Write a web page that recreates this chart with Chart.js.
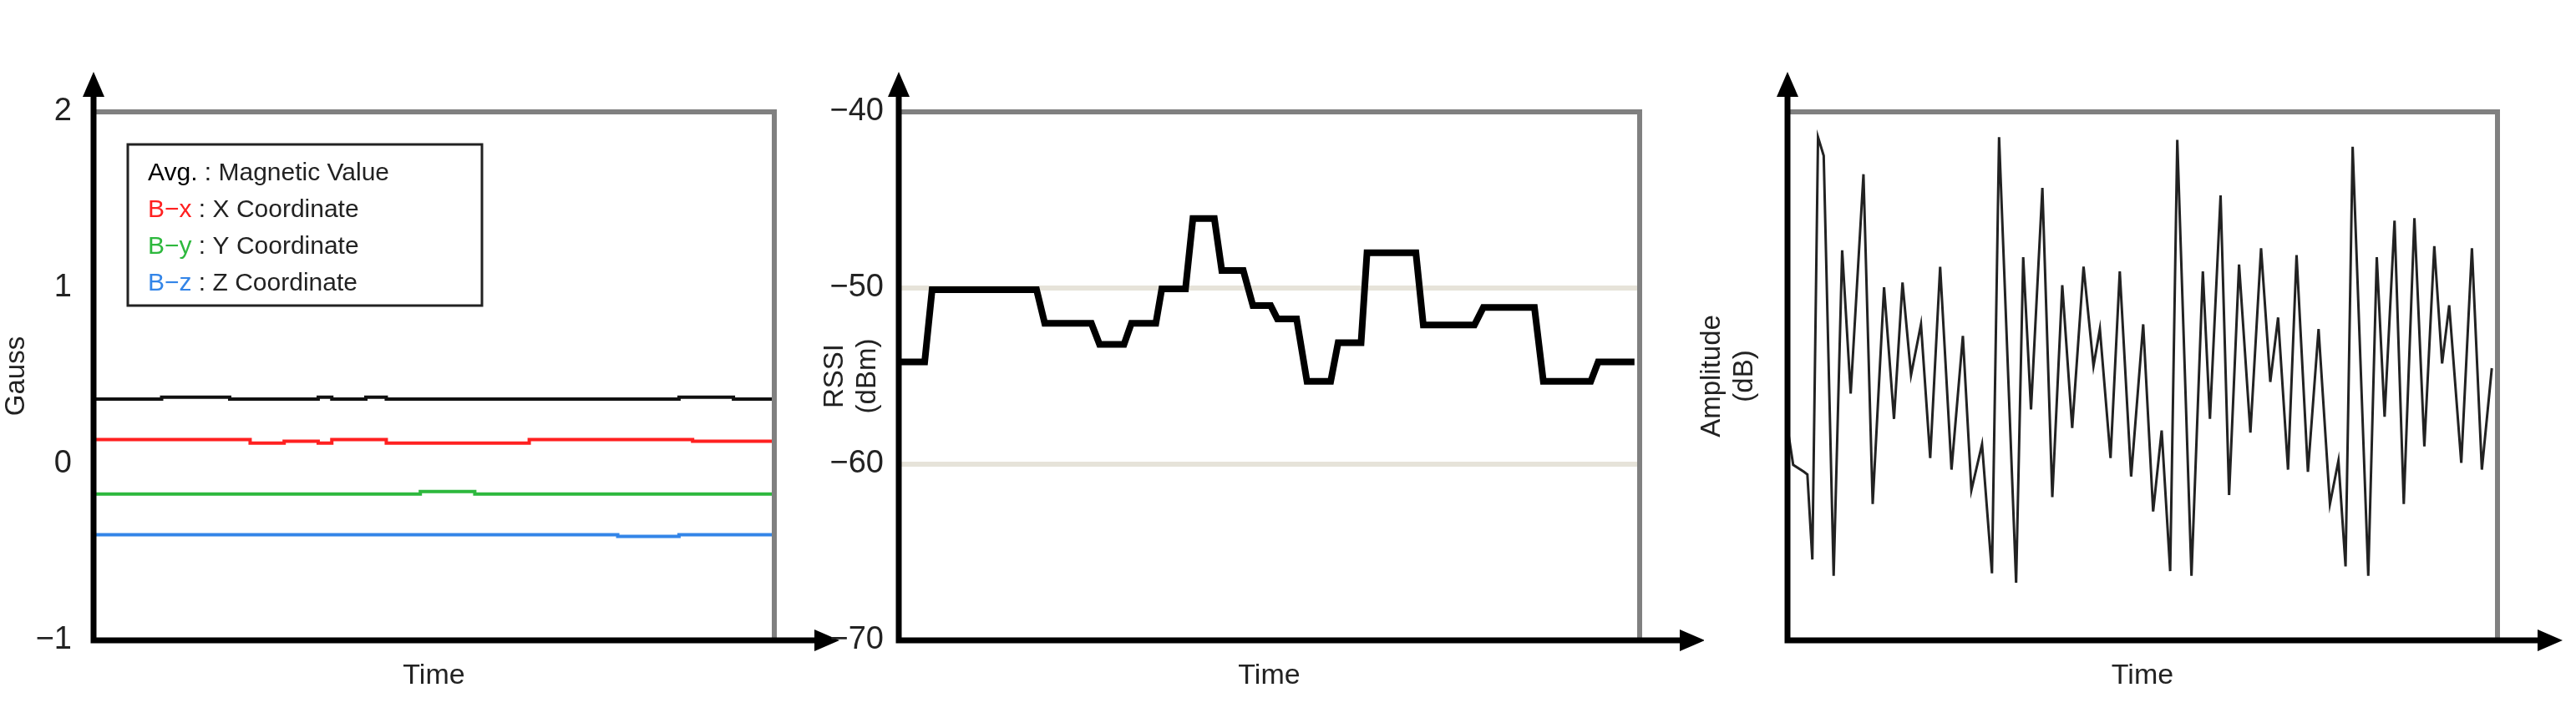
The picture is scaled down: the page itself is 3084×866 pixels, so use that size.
<!DOCTYPE html>
<html>
<head>
<meta charset="utf-8">
<script src="https://cdn.jsdelivr.net/npm/chart.js@4"></script>
<style>
  body { margin: 0; background: #fff; width: 3084px; height: 866px; position: relative; overflow: hidden; }
  .box { position: absolute; top: 0; height: 866px; }
</style>
</head>
<body>
<div class="box" style="left:0;width:1010px"><canvas id="magChart"></canvas></div>
<div class="box" style="left:980px;width:1060px"><canvas id="rssiChart"></canvas></div>
<div class="box" style="left:2030px;width:1054px"><canvas id="ampChart"></canvas></div>
<script>
// Magnetic chart data (time in %, Gauss)
const magTime = [0, 10, 20, 23, 28, 33, 35, 40, 43, 48, 56, 64, 70, 77, 86, 88, 94, 100];
const magAvg  = [0.37, 0.38, 0.37, 0.37, 0.37, 0.38, 0.37, 0.38, 0.37, 0.37, 0.37, 0.37, 0.37, 0.37, 0.38, 0.38, 0.37, 0.37];
const magX    = [0.14, 0.14, 0.14, 0.12, 0.13, 0.12, 0.14, 0.14, 0.12, 0.12, 0.12, 0.14, 0.14, 0.14, 0.14, 0.13, 0.13, 0.13];
const magY    = [-0.17, -0.17, -0.17, -0.17, -0.17, -0.17, -0.17, -0.17, -0.17, -0.155, -0.17, -0.17, -0.17, -0.17, -0.17, -0.17, -0.17, -0.17];
const magZ    = [-0.40, -0.40, -0.40, -0.40, -0.40, -0.40, -0.40, -0.40, -0.40, -0.40, -0.40, -0.40, -0.40, -0.41, -0.40, -0.40, -0.40, -0.385];
const magTicks = [2, 1, 0, -1];

// RSSI data
const rssiTime = [0, 3.5, 4.5, 18.6, 19.7, 26.0, 27.1, 30.4, 31.4, 34.7, 35.5, 38.7, 39.7, 42.6, 43.6, 46.5, 47.8, 50.2, 51.1, 53.7, 55.1, 58.3, 59.3, 62.4, 63.2, 69.8, 70.8, 77.7, 78.9, 85.8, 87.0, 93.4, 94.4, 99.3];
const rssiVal  = [-54.2, -54.2, -50.1, -50.1, -52.0, -52.0, -53.2, -53.2, -52.0, -52.0, -50.05, -50.05, -46.06, -46.06, -49.0, -49.0, -51.0, -51.0, -51.75, -51.75, -55.3, -55.3, -53.1, -53.1, -48.0, -48.0, -52.1, -52.1, -51.1, -51.1, -55.3, -55.3, -54.2, -54.2];
const rssiTicks = [-40, -50, -60, -70];

// Amplitude data (relative scale 0-100)
const ampTime = [0, 0.8, 2.3, 2.8, 3.5, 4.3, 5.1, 6.5, 7.7, 8.9, 10.7, 12.0, 13.6, 15.0, 16.2, 17.4, 18.8, 20.1, 21.5, 23.1, 24.7, 25.9, 27.4, 28.8, 29.8, 32.2, 33.2, 34.3, 35.9, 37.3, 38.7, 40.1, 41.7, 43.1, 44.0, 45.5, 46.8, 48.4, 50.1, 51.5, 52.7, 53.9, 54.9, 56.9, 58.5, 59.5, 61.0, 62.2, 63.6, 65.2, 66.7, 68.0, 69.1, 70.5, 71.7, 73.3, 74.8, 76.4, 77.6, 78.6, 79.6, 81.8, 83.0, 84.1, 85.5, 86.8, 88.3, 89.7, 91.1, 92.2, 93.2, 94.9, 96.4, 97.8, 99.2];
const ampVal  = [40.2, 33.2, 31.9, 31.4, 15.3, 95.2, 91.7, 12.2, 73.8, 46.7, 88.2, 25.8, 66.8, 41.9, 67.7, 50.2, 59.8, 34.5, 70.7, 32.3, 57.6, 28.4, 37.1, 12.7, 95.2, 10.9, 72.5, 43.7, 85.6, 27.1, 67.2, 40.2, 70.7, 51.9, 58.9, 34.5, 69.8, 31.0, 59.8, 24.4, 39.7, 13.1, 94.7, 12.2, 69.8, 41.9, 84.2, 27.5, 71.1, 39.3, 74.2, 48.9, 61.1, 32.3, 72.9, 31.9, 58.9, 25.8, 34.0, 14.0, 93.4, 12.2, 72.5, 42.3, 79.4, 25.8, 79.9, 36.7, 74.6, 52.4, 63.4, 33.6, 74.2, 32.3, 51.5];

const FONT = 'Arial, "Liberation Sans", sans-serif';

function pts(xs, ys) { return xs.map((x, i) => ({ x: x, y: ys[i] })); }

// frame: grey top/right, black axes with arrows
const framePlugin = {
    id: 'frame',
    afterDraw(chart) {
        const a = chart.chartArea, ctx = chart.ctx;
        ctx.save();
        ctx.strokeStyle = '#808080';
        ctx.lineWidth = 6;
        ctx.beginPath();
        ctx.moveTo(a.left, a.top); ctx.lineTo(a.right, a.top); ctx.lineTo(a.right, a.bottom);
        ctx.stroke();
        ctx.strokeStyle = '#000'; ctx.fillStyle = '#000';
        ctx.lineWidth = 7;
        ctx.beginPath();
        ctx.moveTo(a.left, a.top - 30); ctx.lineTo(a.left, a.bottom); ctx.lineTo(a.right + 55, a.bottom);
        ctx.stroke();
        ctx.beginPath();
        ctx.moveTo(a.left, a.top - 48); ctx.lineTo(a.left - 13, a.top - 18); ctx.lineTo(a.left + 13, a.top - 18); ctx.closePath(); ctx.fill();
        ctx.beginPath();
        ctx.moveTo(a.right + 78, a.bottom); ctx.lineTo(a.right + 48, a.bottom - 13); ctx.lineTo(a.right + 48, a.bottom + 13); ctx.closePath(); ctx.fill();
        ctx.restore();
    }
};

// legend box for the magnetic chart
const magLegend = {
    id: 'magLegend',
    afterDraw(chart) {
        if (chart.canvas.id !== 'magChart') return;
        const ctx = chart.ctx;
        ctx.save();
        ctx.strokeStyle = '#222'; ctx.lineWidth = 3;
        ctx.strokeRect(153, 173, 424, 193);
        const rows = [['Avg.', '#000', ' : Magnetic Value'], ['B\u2212x', '#ff2020', ' : X Coordinate'],
                      ['B\u2212y', '#2db83d', ' : Y Coordinate'], ['B\u2212z', '#3385e8', ' : Z Coordinate']];
        ctx.font = '30px ' + FONT; ctx.textBaseline = 'middle';
        rows.forEach((r, i) => {
            const y = 208 + i * 44;
            ctx.fillStyle = r[1]; ctx.fillText(r[0], 177, y);
            const w = ctx.measureText(r[0]).width;
            ctx.fillStyle = '#222'; ctx.fillText(r[2], 177 + w, y);
        });
        ctx.restore();
    }
};

function baseOptions(leftW, rightPad, yMin, yMax, ticks, title, showTicks, grid) {
    return {
        responsive: true,
        maintainAspectRatio: false,
        animation: false,
        layout: { padding: { top: 134, right: rightPad, bottom: 36, left: 0 } },
        plugins: { legend: { display: false }, tooltip: { enabled: false } },
        elements: { point: { radius: 0 } },
        scales: {
            x: {
                type: 'linear', min: 0, max: 100,
                grid: { display: false }, border: { display: false },
                ticks: { display: false },
                title: { display: true, text: 'Time', color: '#222', font: { family: FONT, size: 34 }, padding: { top: 14, bottom: 0 } },
                afterFit(s) { s.height = 63; }
            },
            y: {
                min: yMin, max: yMax,
                afterBuildTicks(s) { s.ticks = ticks.map(v => ({ value: v })); },
                ticks: { display: showTicks, color: '#222', font: { family: FONT, size: 38 }, padding: 18,
                         callback: v => (v < 0 ? '\u2212' + Math.abs(v) : String(v)) },
                grid: grid ? { color: v => (v.tick.value === -50 || v.tick.value === -60) ? '#e6e3d9' : 'rgba(0,0,0,0)', lineWidth: 6, drawTicks: false } : { display: false },
                border: { display: false },
                title: { display: true, text: title, color: '#222', font: { family: FONT, size: 33 }, padding: 0 },
                afterFit(s) { s.width = leftW; }
            }
        }
    };
}

new Chart(document.getElementById('magChart'), {
    type: 'line',
    data: { datasets: [
        { data: pts(magTime, magAvg), borderColor: '#111', borderWidth: 4, stepped: true },
        { data: pts(magTime, magX), borderColor: '#ff2020', borderWidth: 4, stepped: true },
        { data: pts(magTime, magY), borderColor: '#2db83d', borderWidth: 4, stepped: true },
        { data: pts(magTime, magZ), borderColor: '#3385e8', borderWidth: 4, stepped: true }
    ] },
    options: baseOptions(112, 83, -1, 2, magTicks, 'Gauss', true, false),
    plugins: [framePlugin, magLegend]
});

new Chart(document.getElementById('rssiChart'), {
    type: 'line',
    data: { datasets: [{ data: pts(rssiTime, rssiVal), borderColor: '#000', borderWidth: 8 }] },
    options: baseOptions(96, 77, -70, -40, rssiTicks, ['RSSI', '(dBm)'], true, true),
    plugins: [framePlugin]
});

new Chart(document.getElementById('ampChart'), {
    type: 'line',
    data: { datasets: [{ data: pts(ampTime, ampVal), borderColor: '#222', borderWidth: 3 }] },
    options: baseOptions(110, 94, 0, 100, [0, 100], ['Amplitude', '(dB)'], false, false),
    plugins: [framePlugin]
});
</script>
</body>
</html>
